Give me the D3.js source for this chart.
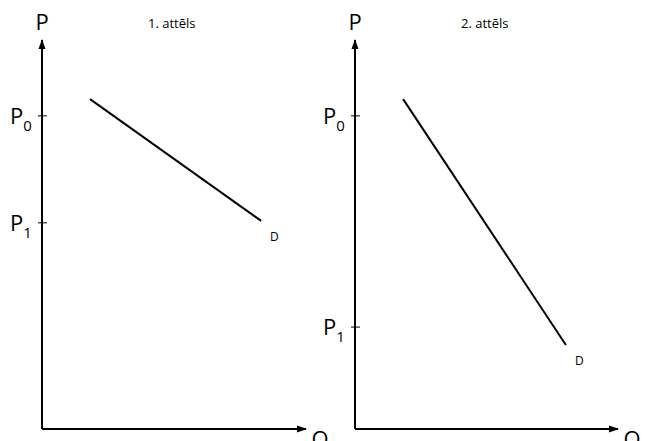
<!DOCTYPE html>
<html>
<head>
<meta charset="utf-8">
<script src="https://cdn.jsdelivr.net/npm/d3@7"></script>
<style>
  body { margin: 0; background: #fff; }
  svg text { font-family: "Open Sans", "Liberation Sans", sans-serif; fill: #000; }
</style>
</head>
<body>
<div id="chart"></div>
<script>
const titles = ['1. attēls', '2. attēls'];
const priceLevels = [[8.05, 5.3], [8.05, 2.62]];      // P0, P1 per panel
const demandLines = [
  [{ q: 1.82, p: 8.48 }, { q: 8.3, p: 5.35 }],
  [{ q: 1.83, p: 8.48 }, { q: 8.02, p: 2.16 }]
];

const W = 645, H = 441;
const panels = [
  { x0: 42, x1: 306 },
  { x0: 355, x1: 618 }
];
const yTop = 40, yBot = 429;

const svg = d3.select('#chart').append('svg').attr('width', W).attr('height', H);
svg.append('defs').append('marker').attr('id', 'arr')
  .attr('viewBox', '0 0 10 10').attr('refX', 9).attr('refY', 5)
  .attr('markerWidth', 5).attr('markerHeight', 5).attr('orient', 'auto')
  .append('path').attr('d', 'M0,1.5 L10,5 L0,8.5 Z').attr('fill', '#000');

panels.forEach((pn, i) => {
  const x = d3.scaleLinear().domain([0, 10]).range([pn.x0, pn.x1]);
  const y = d3.scaleLinear().domain([0, 10]).range([yBot, yTop]);
  const g = svg.append('g');

  // axes
  g.append('line').attr('x1', pn.x0).attr('y1', yBot).attr('x2', pn.x0).attr('y2', yTop)
    .attr('stroke', '#000').attr('stroke-width', 2).attr('marker-end', 'url(#arr)');
  g.append('line').attr('x1', pn.x0).attr('y1', yBot).attr('x2', pn.x1).attr('y2', yBot)
    .attr('stroke', '#000').attr('stroke-width', 2).attr('marker-end', 'url(#arr)');

  g.append('text').attr('x', pn.x0).attr('y', 30).attr('text-anchor', 'middle')
    .attr('font-size', '22px').text('P');
  g.append('text').attr('x', pn.x1 + 14).attr('y', 447).attr('text-anchor', 'middle')
    .attr('font-size', '22px').text('Q');
  g.append('text').attr('x', pn.x0 + 106).attr('y', 28)
    .attr('font-size', '13px').text(titles[i]);

  // price ticks
  priceLevels[i].forEach((p, k) => {
    const yy = y(p);
    g.append('line').attr('x1', pn.x0 - 4).attr('x2', pn.x0 + 5).attr('y1', yy).attr('y2', yy)
      .attr('stroke', '#000').attr('stroke-width', 1);
    const t = g.append('text').attr('x', pn.x0 - 32).attr('y', yy + 8).attr('font-size', '22px');
    t.append('tspan').text('P');
    t.append('tspan').attr('font-size', '15px').attr('dy', 7).text(String(k));
  });

  // demand line
  const line = d3.line().x(d => x(d.q)).y(d => y(d.p));
  g.append('path').datum(demandLines[i]).attr('d', line)
    .attr('fill', 'none').attr('stroke', '#000').attr('stroke-width', 2);
  const end = demandLines[i][1];
  g.append('text').attr('x', x(end.q) + 9).attr('y', y(end.p) + 20)
    .attr('font-size', '12px').text('D');
});
</script>
</body>
</html>
